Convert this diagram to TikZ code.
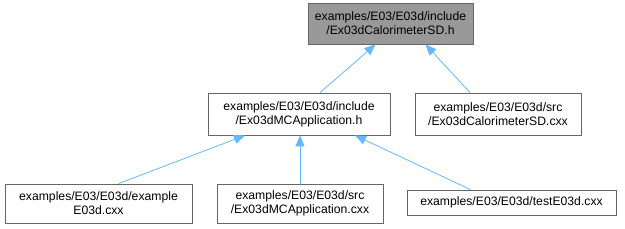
\documentclass[tikz,border=0pt]{standalone}
\usepackage{fontspec}
\setmainfont{Liberation Sans}
\usetikzlibrary{arrows.meta}
\definecolor{edgeblue}{HTML}{63B8FF}
\definecolor{boxborder}{HTML}{666666}
\definecolor{topfill}{HTML}{999999}
\begin{document}
\begin{tikzpicture}[x=1pt,y=-1pt,
  box/.style={draw=boxborder, fill=white, line width=0.8pt, inner sep=0pt,
    align=center, font=\fontsize{12.2}{14.2}\selectfont},
  edge/.style={draw=edgeblue, line width=0.8pt,
    -{Triangle[length=11pt,width=9pt,fill=edgeblue]}}]
\useasboundingbox (0,0) rectangle (625,229);
\node[box, fill=topfill, minimum width=165pt, minimum height=41pt] (top) at (390.5,23.5)
  {examples/E03/E03d/include\\/Ex03dCalorimeterSD.h};
\node[box, minimum width=182pt, minimum height=42pt] (mid) at (299,114)
  {examples/E03/E03d/include\\/Ex03dMCApplication.h};
\node[box, minimum width=166pt, minimum height=42pt] (midr) at (498,114)
  {examples/E03/E03d/src\\/Ex03dCalorimeterSD.cxx};
\node[box, minimum width=187pt, minimum height=39pt] (b1) at (98.5,203.5)
  {examples/E03/E03d/example\\E03d.cxx};
\node[box, minimum width=166pt, minimum height=39pt] (b2) at (300,203.5)
  {examples/E03/E03d/src\\/Ex03dMCApplication.cxx};
\node[box, minimum width=209pt, minimum height=25pt] (b3) at (511.5,202.5)
  {examples/E03/E03d/testE03d.cxx};
\draw[edge] ([xshift=21pt]mid.north) -- ([xshift=-15pt]top.south);
\draw[edge] ([xshift=-28pt]midr.north) -- ([xshift=35pt]top.south);
\draw[edge] ([xshift=20pt]b1.north) -- ([xshift=-54pt]mid.south);
\draw[edge] (b2.north) -- ([xshift=1pt]mid.south);
\draw[edge] ([xshift=-41pt]b3.north) -- ([xshift=56pt]mid.south);
\end{tikzpicture}
\end{document}
